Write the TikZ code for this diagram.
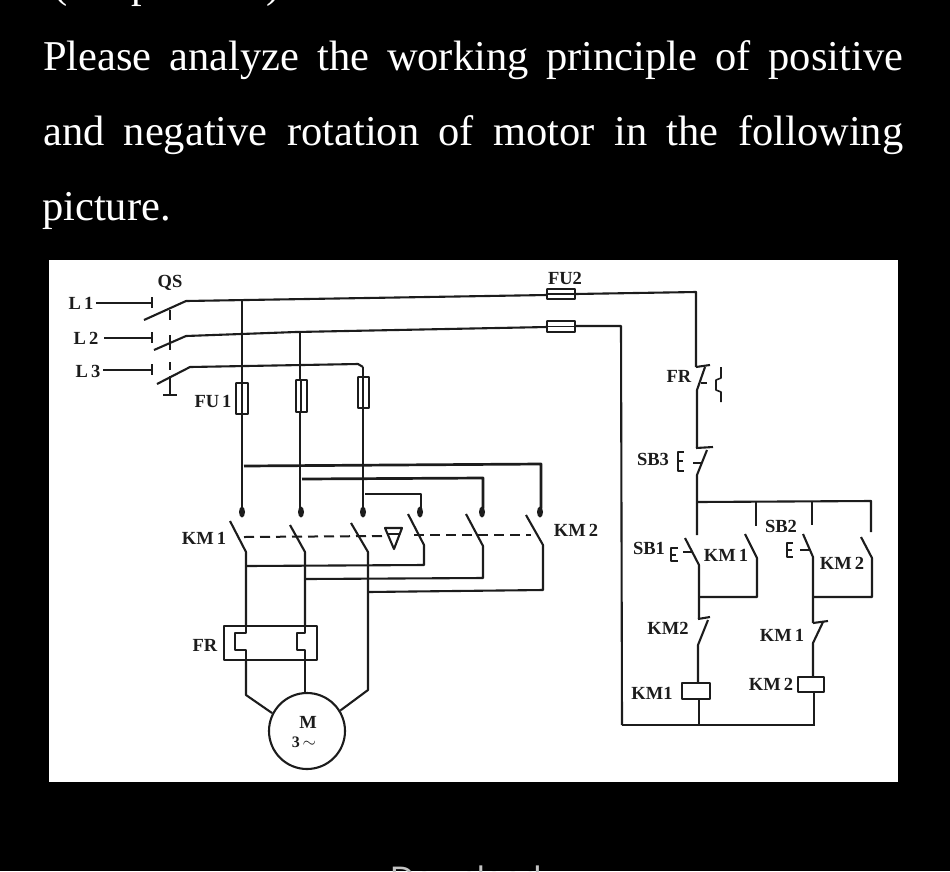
\documentclass[tikz,border=0pt]{standalone}
\usepackage{fontspec}
\setmainfont{Liberation Serif}
\newfontfamily\uifont{Liberation Sans}
\definecolor{ink}{HTML}{1C1C1C}
\definecolor{uigray}{HTML}{C4C4C4}
\tikzset{
  wire/.style={draw=ink,line width=2.1pt,line join=round},
  thin wire/.style={draw=ink,line width=1.6pt,line join=round},
  heavy wire/.style={draw=ink,line width=2.7pt,line join=round},
  link/.style={draw=ink,line width=2pt,dash pattern=on 10pt off 6pt},
  lbl/.style={font=\fontsize{18.5}{18.5}\selectfont\bfseries,text=ink,inner sep=0pt},
  para/.style={font=\fontsize{42.5}{42.5}\selectfont,text=white,inner sep=0pt,anchor=base west},
  fuse/.style={draw=ink,line width=1.8pt,fill=white,rounded corners=0.5pt},
  hook/.style={fill=ink}
}
\begin{document}
\begin{tikzpicture}[x=1pt,y=-1pt]
\useasboundingbox (0,0) rectangle (950,871);
\clip (0,0) rectangle (950,871);
\fill[black] (0,0) rectangle (950,871);
% surrounding page text
\node[para] (clipped) at (53,-3) {( 10 points\hspace{32pt})};
\node[para] (line1) at (43,70) {\makebox[860pt][s]{Please analyze the working principle of positive}};
\node[para] (line2) at (43,145) {\makebox[860pt][s]{and negative rotation of motor in the following}};
\node[para] (line3) at (42,220) {picture.};
\node[font=\uifont\fontsize{34}{34}\selectfont,text=uigray,inner sep=0pt,anchor=base west] (download) at (390,890) {Download};
% picture sheet
\fill[white] (49,260) rectangle (898,782);

% ---- coordinates
\coordinate (pL1) at (186,301);
\coordinate (pL2) at (186,336);
\coordinate (pL3) at (190,367);
\coordinate (fu2a) at (547,295);
\coordinate (fu2b) at (547,327);
\coordinate (n1) at (696,292);
\coordinate (n2) at (621,326);
\coordinate (rb) at (622,725);

% ---- incoming lines and QS
\draw[thin wire] (96,303) -- (152,303);
\draw[thin wire] (104,338) -- (152,338);
\draw[thin wire] (103,370) -- (152,370);
\foreach \yy in {303,338,370} \draw[thin wire] (152,\yy-6) -- (152,\yy+5);
\draw[wire] (144,320) -- (pL1) -- (fu2a);
\draw[wire] (154,350) -- (pL2) -- (296,332) -- (fu2b);
\draw[wire] (157,384) -- (pL3) -- (358,364) -- (363,367);
\draw[thin wire] (170,310) -- (170,320);
\draw[thin wire] (170,335) -- (170,350);
\draw[thin wire] (170,362) -- (170,370);
\draw[wire] (170,376) -- (170,395) (163,395) -- (177,395);

% ---- FU2 and control feed
\draw[wire] (575,294) -- (n1) -- (696,367);
\draw[wire] (575,326) -- (n2) -- (rb);
\draw[fuse] (547,289) rectangle (575,299);
\draw[thin wire] (547,294) -- (575,294);
\draw[fuse] (547,321) rectangle (575,332);
\draw[thin wire] (547,326.5) -- (575,326.5);

% ---- three-phase verticals
\draw[wire] (242,301) -- (242,512);
\draw[wire] (300,332) -- (300,512);
\draw[wire] (363,367) -- (363,512);
\draw[fuse] (236,383) rectangle (248,414);
\draw[fuse] (296,380) rectangle (307,412);
\draw[fuse] (358,377) rectangle (369,408);
\draw[thin wire] (242,383) -- (242,414) (301,380) -- (301,412) (363,377) -- (363,408);

% ---- reversing bridge, top
\draw[heavy wire] (244,466) -- (541,464) -- (541,508);
\draw[heavy wire] (302,479) -- (483,478) -- (483,508);
\draw[heavy wire] (365,494) -- (421,494) -- (421,508);
\foreach \xx in {243,302,364,421,483,541}
  \fill[hook] (\xx-1,512) ellipse (3pt and 5.5pt);

% ---- contactor blades
\draw[wire] (230,521) -- (246,552) -- (246,626);
\draw[wire] (246,660) -- (246,695) -- (272,713);
\draw[wire] (290,525) -- (305,552) -- (305,626);
\draw[wire] (305,660) -- (305,693);
\draw[wire] (351,523) -- (368,552) -- (368,690) -- (341,710);
\draw[wire] (408,514) -- (424,545) -- (424,565) -- (246,566);
\draw[wire] (466,514) -- (483,546) -- (483,578) -- (306,579);
\draw[wire] (526,515) -- (543,545) -- (543,590) -- (368,592);

% ---- mechanical link and interlock triangle
\draw[link] (244,537) -- (382,536);
\draw[link] (414,535) -- (531,535);
\draw[wire] (385,528) -- (402,528) -- (394,549) -- cycle;
\draw[thin wire] (387,534) -- (400,534);

% ---- thermal relay
\draw[wire] (224,626) rectangle (317,660);
\draw[wire] (246,626) -- (246,633) -- (235,633) -- (235,650) -- (246,650) -- (246,660);
\draw[wire] (305,626) -- (305,633) -- (297,633) -- (297,650) -- (305,650) -- (305,660);

% ---- motor
\node[circle,draw=ink,line width=2.1pt,minimum size=76pt,inner sep=0pt,fill=white] (motor) at (307,731) {};
\draw[wire] (272,713) -- (motor);
\draw[wire] (341,710) -- (motor);
\node[lbl] (mtxt) at (308,722) {M};
\node[lbl,font=\fontsize{16}{16}\selectfont\bfseries] (mthree) at (304,742) {3\,$\sim$};

% ---- control: FR and SB3
\draw[wire] (696,367) -- (710,365);
\draw[wire] (705,367) -- (697,390) -- (697,448);
\draw[thin wire] (701,383) -- (707,383);
\draw[thin wire] (721,367) -- (721,378) -- (716,380) -- (716,390) -- (721,392) -- (721,402);
\draw[wire] (696,448) -- (713,447);
\draw[wire] (707,450) -- (697,475) -- (697,535);
\draw[thin wire] (684,452) -- (678,452) -- (678,471) -- (684,471) (678,461) -- (683,461);
\draw[thin wire] (693,463) -- (702,463);

% ---- control: holding branch
\draw[wire] (697,502) -- (871,501) -- (871,532);
\draw[wire] (756,502) -- (756,526);
\draw[heavy wire] (812,502) -- (812,525);
% SB1
\draw[wire] (685,538) -- (699,565) -- (699,619);
\draw[heavy wire] (678,548) -- (671,548) -- (671,561) -- (678,561) (671,555) -- (676,555);
\draw[thin wire] (683,552) -- (692,552);
% KM1 hold
\draw[wire] (745,534) -- (757,558) -- (757,597) -- (699,597);
% SB2
\draw[wire] (803,534) -- (813,557) -- (813,623);
\draw[thin wire] (793,543) -- (787,543) -- (787,557) -- (793,557) (787,550) -- (792,550);
\draw[thin wire] (800,550) -- (810,550);
% KM2 hold
\draw[wire] (861,537) -- (872,558) -- (872,597) -- (813,597);
% KM2 NC + coil KM1
\draw[wire] (698,619) -- (710,617);
\draw[wire] (708,620) -- (698,645) -- (698,683);
\draw[wire] (682,683) rectangle (710,699);
\draw[wire] (699,699) -- (699,725);
% KM1 NC + coil KM2
\draw[wire] (813,623) -- (828,621);
\draw[wire] (823,622) -- (813,643) -- (813,677);
\draw[wire] (798,677) rectangle (824,692);
\draw[wire] (814,692) -- (814,725);
\draw[wire] (rb) -- (815,725);

% ---- labels
\node[lbl] (tL1) at (81,303) {L\,1};
\node[lbl] (tL2) at (86,338) {L\,2};
\node[lbl] (tL3) at (88,371) {L\,3};
\node[lbl] (tQS) at (170,283) {QS};
\node[lbl] (tFU1) at (213,401) {FU\,1};
\node[lbl] (tFU2) at (565,278) {FU2};
\node[lbl] (tKM1a) at (204,538) {KM\,1};
\node[lbl] (tKM2a) at (576,530) {KM\,2};
\node[lbl] (tFRa) at (205,645) {FR};
\node[lbl] (tFRb) at (679,376) {FR};
\node[lbl] (tSB3) at (653,459) {SB3};
\node[lbl] (tSB1) at (649,548) {SB1};
\node[lbl] (tKM1b) at (726,555) {KM\,1};
\node[lbl] (tSB2) at (781,526) {SB2};
\node[lbl] (tKM2b) at (842,563) {KM\,2};
\node[lbl] (tKM2c) at (668,628) {KM2};
\node[lbl] (tKM1c) at (782,635) {KM\,1};
\node[lbl] (tKM1d) at (652,693) {KM1};
\node[lbl] (tKM2d) at (771,684) {KM\,2};
\end{tikzpicture}
\end{document}
